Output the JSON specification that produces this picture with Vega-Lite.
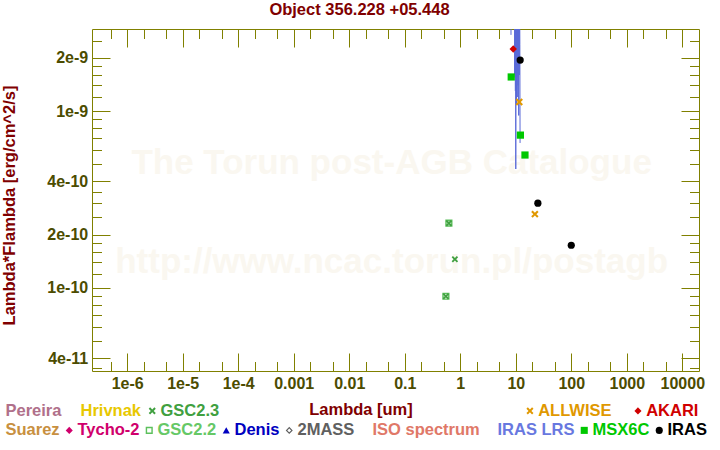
{
  "$schema": "https://vega.github.io/schema/vega-lite/v6.json",
  "width": 607,
  "height": 342,
  "autosize": {"type": "none"},
  "padding": {"left": 92, "top": 29, "right": 21, "bottom": 79},
  "background": "white",
  "title": {"text": "Object 356.228 +05.448", "color": "#800000", "font": "Liberation Sans", "fontSize": 16.5, "fontWeight": "bold", "anchor": "middle", "dx": -36, "baseline": "middle", "offset": 2},
  "config": {
    "view": {"stroke": "#808000", "strokeWidth": 1},
    "axis": {"grid": false, "domain": false, "tickColor": "#808000", "tickWidth": 1, "labelFont": "Liberation Sans", "labelFontSize": 16, "labelFontWeight": "bold", "labelColor": "#4c4c00", "titleFont": "Liberation Sans", "titleFontSize": 16.5, "titleFontWeight": "bold", "titleColor": "#800000", "labelOverlap": false, "labelFlush": false, "labelBound": false}
  },
  "resolve": {"scale": {"color": "independent", "shape": "independent"}, "axis": {"x": "independent", "y": "independent"}},
  "layer": [
    {
      "data": {"values": [
        {"t": "The Torun post-AGB Catalogue", "lam": 0.058, "f": 5.09e-10},
        {"t": "http://www.ncac.torun.pl/postagb", "lam": 0.058, "f": 1.4e-10}
      ]},
      "mark": {"type": "text", "font": "Liberation Sans", "fontSize": 35, "fontWeight": "bold", "color": "#faf7f0", "align": "center", "baseline": "middle"},
      "encoding": {
        "x": {"field": "lam", "type": "quantitative", "scale": {"type": "log", "domain": [2.32e-7, 20000], "nice": false},
          "axis": {"orient": "bottom", "title": "Lambda [um]", "titleX": 268.5, "titleY": 38, "titleBaseline": "middle", "titleAlign": "center", "ticks": false,
            "values": [1e-6, 1e-5, 1e-4, 0.001, 0.01, 0.1, 1, 10, 100, 1000, 10000],
            "labelExpr": "datum.value < 0.0005 ? '1e' + round(log(datum.value)/LN10) : '' + datum.value",
            "labelPadding": 4}},
        "y": {"field": "f", "type": "quantitative", "scale": {"type": "log", "domain": [3.378e-11, 2.915e-9], "nice": false},
          "axis": {"orient": "left", "title": "Lambda*Flambda [erg/cm^2/s]", "titleX": -82.5, "titleY": 176, "titleBaseline": "middle", "titleAlign": "center", "ticks": false,
            "values": [4e-11, 1e-10, 2e-10, 4e-10, 1e-9, 2e-9],
            "labelExpr": "round(datum.value/pow(10,floor(log(datum.value)/LN10+1e-6))) + 'e' + floor(log(datum.value)/LN10+1e-6)",
            "labelPadding": 4.3}},
        "text": {"field": "t"}
      }
    },
    {
      "data": {"values": [
        {"lam": 8.2, "f": 2.7e-9}, {"lam": 8.24, "f": 6e-9}, {"lam": 9.55, "f": 6e-9}, {"lam": 9.6, "f": 1.6e-9},
        {"lam": 9.66, "f": 6e-9}, {"lam": 9.72, "f": 1.55e-9}, {"lam": 9.78, "f": 6e-9}, {"lam": 9.85, "f": 1.3e-9},
        {"lam": 9.92, "f": 6e-9}, {"lam": 10.0, "f": 4.7e-10}, {"lam": 10.08, "f": 6e-9}, {"lam": 10.15, "f": 1.5e-9},
        {"lam": 10.22, "f": 6e-9}, {"lam": 10.3, "f": 1.1e-9}, {"lam": 10.38, "f": 6e-9}, {"lam": 10.46, "f": 1.55e-9},
        {"lam": 10.54, "f": 6e-9}, {"lam": 10.62, "f": 1.2e-9}, {"lam": 10.7, "f": 6e-9}, {"lam": 10.8, "f": 1.6e-9},
        {"lam": 10.9, "f": 6e-9}, {"lam": 11.0, "f": 1.4e-9}, {"lam": 11.1, "f": 6e-9}, {"lam": 11.3, "f": 9.45e-10},
        {"lam": 11.45, "f": 6e-9}, {"lam": 11.6, "f": 1.6e-9}, {"lam": 11.7, "f": 6e-9}, {"lam": 11.85, "f": 2.38e-9},
        {"lam": 11.95, "f": 6.6e-10}
      ]},
      "mark": {"type": "line", "color": "#5b6bd8", "strokeWidth": 1, "clip": true},
      "encoding": {
        "x": {"field": "lam", "type": "quantitative", "scale": {"type": "log", "domain": [2.32e-7, 20000], "nice": false},
          "axis": {"orient": "top", "title": null, "labels": false,
            "values": [5e-7, 1e-6, 2e-6, 5e-6, 1e-5, 2e-5, 5e-5, 1e-4, 2e-4, 5e-4, 0.001, 0.002, 0.005, 0.01, 0.02, 0.05, 0.1, 0.2, 0.5, 1, 2, 5, 10, 20, 50, 100, 200, 500, 1000, 2000, 5000, 10000],
            "tickSize": {"condition": {"test": "abs(log(datum.value)/LN10 - round(log(datum.value)/LN10)) < 0.001", "value": -18}, "value": -9.5}}},
        "y": {"field": "f", "type": "quantitative", "scale": {"type": "log", "domain": [3.378e-11, 2.915e-9], "nice": false},
          "axis": {"orient": "right", "title": null, "labels": false,
            "values": [3.5e-11, 4e-11, 5e-11, 6e-11, 7e-11, 8e-11, 9e-11, 1e-10, 1.2e-10, 1.4e-10, 1.6e-10, 1.8e-10, 2e-10, 2.5e-10, 3e-10, 3.5e-10, 4e-10, 5e-10, 6e-10, 7e-10, 8e-10, 9e-10, 1e-9, 1.2e-9, 1.4e-9, 1.6e-9, 1.8e-9, 2e-9, 2.5e-9],
            "tickSize": {"condition": {"test": "abs(datum.value/pow(10,floor(log(datum.value)/LN10+1e-6))-1)<0.01 || abs(datum.value/pow(10,floor(log(datum.value)/LN10+1e-6))-2)<0.01 || abs(datum.value/pow(10,floor(log(datum.value)/LN10+1e-6))-4)<0.01", "value": -18}, "value": -9.5}}}
      }
    },
    {
      "data": {"values": [
        {"cat": "MSX6C", "lam": 8.28, "f": 1.56e-9},
        {"cat": "MSX6C", "lam": 12.13, "f": 7.31e-10},
        {"cat": "MSX6C", "lam": 14.65, "f": 5.64e-10},
        {"cat": "IRAS", "lam": 12, "f": 1.945e-9},
        {"cat": "IRAS", "lam": 25, "f": 3.01e-10},
        {"cat": "IRAS", "lam": 100, "f": 1.74e-10},
        {"cat": "GSC2.2", "lam": 0.624, "f": 2.32e-10},
        {"cat": "GSC2.2", "lam": 0.551, "f": 8.95e-11}
      ]},
      "mark": {"type": "point", "filled": true, "size": 52, "opacity": 1},
      "encoding": {
        "x": {"field": "lam", "type": "quantitative", "scale": {"type": "log", "domain": [2.32e-7, 20000], "nice": false},
          "axis": {"orient": "bottom", "title": null, "labels": false,
            "values": [5e-7, 1e-6, 2e-6, 5e-6, 1e-5, 2e-5, 5e-5, 1e-4, 2e-4, 5e-4, 0.001, 0.002, 0.005, 0.01, 0.02, 0.05, 0.1, 0.2, 0.5, 1, 2, 5, 10, 20, 50, 100, 200, 500, 1000, 2000, 5000, 10000],
            "tickSize": {"condition": {"test": "abs(log(datum.value)/LN10 - round(log(datum.value)/LN10)) < 0.001", "value": -18}, "value": -9.5}}},
        "y": {"field": "f", "type": "quantitative", "scale": {"type": "log", "domain": [3.378e-11, 2.915e-9], "nice": false},
          "axis": {"orient": "left", "title": null, "labels": false,
            "values": [3.5e-11, 4e-11, 5e-11, 6e-11, 7e-11, 8e-11, 9e-11, 1e-10, 1.2e-10, 1.4e-10, 1.6e-10, 1.8e-10, 2e-10, 2.5e-10, 3e-10, 3.5e-10, 4e-10, 5e-10, 6e-10, 7e-10, 8e-10, 9e-10, 1e-9, 1.2e-9, 1.4e-9, 1.6e-9, 1.8e-9, 2e-9, 2.5e-9],
            "tickSize": {"condition": {"test": "abs(datum.value/pow(10,floor(log(datum.value)/LN10+1e-6))-1)<0.01 || abs(datum.value/pow(10,floor(log(datum.value)/LN10+1e-6))-2)<0.01 || abs(datum.value/pow(10,floor(log(datum.value)/LN10+1e-6))-4)<0.01", "value": -18}, "value": -9.5}}},
        "color": {"field": "cat", "type": "nominal",
          "scale": {"domain": ["Suarez", "Tycho-2", "GSC2.2", "Denis", "2MASS", "ISO spectrum", "IRAS LRS", "MSX6C", "IRAS"],
                    "range": ["#c89040", "#d0006c", "#5cc05c", "#0000c0", "#606060", "#e07868", "#6878e0", "#00c800", "#000000"]},
          "legend": {"orient": "none", "legendX": -103, "legendY": 393, "direction": "horizontal", "title": null, "padding": 0,
            "labelFont": "Liberation Sans", "labelFontSize": 16.5, "labelFontWeight": "bold", "symbolSize": 50, "symbolStrokeWidth": 0, "labelOffset": 0, "columnPadding": 1,
            "labelColor": {"expr": "datum.label==='Suarez'?'#c89040':datum.label==='Tycho-2'?'#d0006c':datum.label==='GSC2.2'?'#66c866':datum.label==='Denis'?'#0000c0':datum.label==='2MASS'?'#606060':datum.label==='ISO spectrum'?'#e07868':datum.label==='IRAS LRS'?'#6878e0':datum.label==='MSX6C'?'#00c800':'#000000'"}}},
        "shape": {"field": "cat", "type": "nominal",
          "scale": {"domain": ["Suarez", "Tycho-2", "GSC2.2", "Denis", "2MASS", "ISO spectrum", "IRAS LRS", "MSX6C", "IRAS"],
                    "range": ["M0,0", "diamond", "M-1,-1H1V1H-1Z M-0.6,-0.6V0.6H0.6V-0.6Z", "triangle-up", "M0,-1L1,0L0,1L-1,0Z M0,-0.55L-0.55,0L0,0.55L0.55,0Z", "M0,0", "M0,0", "square", "circle"]},
          "legend": {"orient": "none", "legendX": -103, "legendY": 393, "direction": "horizontal", "title": null, "padding": 0,
            "labelFont": "Liberation Sans", "labelFontSize": 16.5, "labelFontWeight": "bold", "symbolSize": 50, "symbolStrokeWidth": 0, "labelOffset": 0, "columnPadding": 1,
            "labelColor": {"expr": "datum.label==='Suarez'?'#c89040':datum.label==='Tycho-2'?'#d0006c':datum.label==='GSC2.2'?'#66c866':datum.label==='Denis'?'#0000c0':datum.label==='2MASS'?'#606060':datum.label==='ISO spectrum'?'#e07868':datum.label==='IRAS LRS'?'#6878e0':datum.label==='MSX6C'?'#00c800':'#000000'"}}}
      }
    },
    {
      "data": {"values": [
        {"cat": "GSC2.3", "lam": 0.80, "f": 1.45e-10},
        {"cat": "GSC2.3", "lam": 0.624, "f": 2.32e-10},
        {"cat": "GSC2.3", "lam": 0.551, "f": 8.95e-11}
      ]},
      "mark": {"type": "point", "filled": true, "size": 42, "opacity": 1},
      "encoding": {
        "x": {"field": "lam", "type": "quantitative", "scale": {"type": "log", "domain": [2.32e-7, 20000], "nice": false}, "axis": null},
        "y": {"field": "f", "type": "quantitative", "scale": {"type": "log", "domain": [3.378e-11, 2.915e-9], "nice": false}, "axis": null},
        "color": {"field": "cat", "type": "nominal",
          "scale": {"domain": ["Pereira", "Hrivnak", "GSC2.3"], "range": ["#b0708a", "#e8c800", "#40a040"]},
          "legend": {"orient": "none", "legendX": -103, "legendY": 373.5, "direction": "horizontal", "title": null, "padding": 0,
            "labelFont": "Liberation Sans", "labelFontSize": 16.5, "labelFontWeight": "bold", "symbolSize": 50, "symbolStrokeWidth": 0, "labelOffset": 0, "columnPadding": 2,
            "labelColor": {"expr": "datum.label==='Pereira'?'#b0708a':datum.label==='Hrivnak'?'#e8c800':'#40a040'"}}},
        "shape": {"field": "cat", "type": "nominal",
          "scale": {"domain": ["Pereira", "Hrivnak", "GSC2.3"], "range": ["M0,0", "M0,0", "M-1,-0.6L-0.6,-1L0,-0.4L0.6,-1L1,-0.6L0.4,0L1,0.6L0.6,1L0,0.4L-0.6,1L-1,0.6L-0.4,0Z"]},
          "legend": {"orient": "none", "legendX": -103, "legendY": 373.5, "direction": "horizontal", "title": null, "padding": 0,
            "labelFont": "Liberation Sans", "labelFontSize": 16.5, "labelFontWeight": "bold", "symbolSize": 50, "symbolStrokeWidth": 0, "labelOffset": 0, "columnPadding": 2,
            "labelColor": {"expr": "datum.label==='Pereira'?'#b0708a':datum.label==='Hrivnak'?'#e8c800':'#40a040'"}}}
      }
    },
    {
      "data": {"values": [
        {"cat": "ALLWISE", "lam": 11.56, "f": 1.125e-9},
        {"cat": "ALLWISE", "lam": 22.1, "f": 2.61e-10},
        {"cat": "AKARI", "lam": 9, "f": 2.245e-9}
      ]},
      "mark": {"type": "point", "filled": true, "size": 55, "opacity": 1},
      "encoding": {
        "x": {"field": "lam", "type": "quantitative", "scale": {"type": "log", "domain": [2.32e-7, 20000], "nice": false}, "axis": null},
        "y": {"field": "f", "type": "quantitative", "scale": {"type": "log", "domain": [3.378e-11, 2.915e-9], "nice": false}, "axis": null},
        "color": {"field": "cat", "type": "nominal",
          "scale": {"domain": ["ALLWISE", "AKARI"], "range": ["#e09800", "#d00000"]},
          "legend": {"orient": "none", "legendX": 429.7, "legendY": 373.5, "direction": "horizontal", "title": null, "padding": 0,
            "labelFont": "Liberation Sans", "labelFontSize": 16.5, "labelFontWeight": "bold", "symbolSize": 50, "symbolStrokeWidth": 0, "labelOffset": 0, "columnPadding": 18,
            "labelColor": {"expr": "datum.label==='ALLWISE'?'#e09800':'#d00000'"}}},
        "shape": {"field": "cat", "type": "nominal",
          "scale": {"domain": ["ALLWISE", "AKARI"], "range": ["M-1,-0.6L-0.6,-1L0,-0.4L0.6,-1L1,-0.6L0.4,0L1,0.6L0.6,1L0,0.4L-0.6,1L-1,0.6L-0.4,0Z", "diamond"]},
          "legend": {"orient": "none", "legendX": 429.7, "legendY": 373.5, "direction": "horizontal", "title": null, "padding": 0,
            "labelFont": "Liberation Sans", "labelFontSize": 16.5, "labelFontWeight": "bold", "symbolSize": 50, "symbolStrokeWidth": 0, "labelOffset": 0, "columnPadding": 18,
            "labelColor": {"expr": "datum.label==='ALLWISE'?'#e09800':'#d00000'"}}}
      }
    }
  ]
}
